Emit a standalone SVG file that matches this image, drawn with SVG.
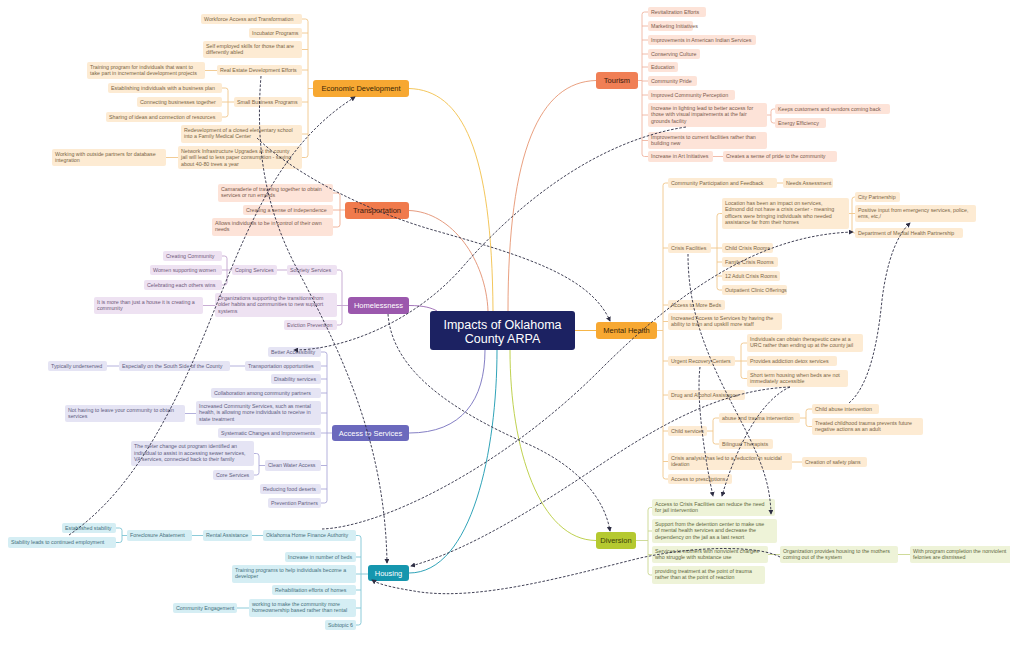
<svg xmlns="http://www.w3.org/2000/svg" width="1010" height="666" viewBox="0 0 1010 666">
<defs>
<marker id="ah" viewBox="0 0 6 6" refX="5" refY="3" markerWidth="5" markerHeight="5" orient="auto" markerUnits="userSpaceOnUse"><path d="M0,0 L6,3 L0,6 z" fill="#2e2e44"/></marker>
<style>
text{font-family:"Liberation Sans",Arial,sans-serif}
.n text{font-size:5.3px}
.n rect{rx:2}
.m text{font-size:7.5px;text-anchor:middle}
.m rect{rx:3}
.ct{font-size:12.5px;fill:#fff;text-anchor:middle}
.ed rect{fill:#fdebd3}.ed text{fill:#7a6545}
.to rect{fill:#fde3d8}.to text{fill:#7a5a4c}
.tr rect{fill:#fde3d8}.tr text{fill:#7a5a4c}
.ho rect{fill:#eee2f2}.ho text{fill:#6e5a7a}
.ac rect{fill:#e5e4f4}.ac text{fill:#5e5c80}
.hs rect{fill:#d5eef4}.hs text{fill:#46707c}
.mh rect{fill:#fdebd3}.mh text{fill:#7a6545}
.dv rect{fill:#eef3d8}.dv text{fill:#62683e}
.br{fill:none;stroke-width:0.9}
.dash{fill:none;stroke:#2e2e44;stroke-width:0.9;stroke-dasharray:2.6 1.6;marker-end:url(#ah)}
</style>
</defs>
<rect width="1010" height="666" fill="#ffffff"/>

<g id="connectors">
<path class="br" stroke="#f2c04a" stroke-width="1.2" d="M409,88.5 C462,90 492,150 493,311"/>
<path class="br" stroke="#e79572" stroke-width="1.2" d="M596,80.5 C540,82 508,150 508,311"/>
<path class="br" stroke="#e29070" stroke-width="1.2" d="M409,210.5 C452,212 486,260 488,311"/>
<path class="br" stroke="#9a66b2" stroke-width="1.2" d="M409,305.5 C424,305.5 432,308 437,311"/>
<path class="br" stroke="#f5ad32" stroke-width="1.2" d="M575,330.5 H596"/>
<path class="br" stroke="#7670bd" stroke-width="1.2" d="M409,433 C462,433 485,400 485,350"/>
<path class="br" stroke="#1898b0" stroke-width="1.2" d="M409,573 C472,573 497,450 497,350"/>
<path class="br" stroke="#b8cc3c" stroke-width="1.2" d="M596,540.5 C540,540 510,450 510,350"/>

<path class="br" stroke="#f0c68a" d="M302,19 H305.5 Q308,19 308,21.5 V155 Q308,157.5 305.5,157.5 H302 M302,33 H308 M302,49.5 H308 M302,70 H308 M302,102 H308 M302,134 H308 M308,88.5 H313 M205,70.5 H217 M222,88 H225.5 Q228,88 228,90.5 V114.5 Q228,117 225.5,117 H222 M222,102 H234 M166,157.5 H178"/>
<path class="br" stroke="#efb4a0" d="M648,12 H644.5 Q642,12 642,14.5 V154 Q642,156.5 644.5,156.5 H648 M648,26 H642 M648,40 H642 M648,54 H642 M648,67 H642 M648,81 H642 M648,95 H642 M648,115 H642 M648,140.5 H642 M638,80.5 H642 M775,109 H773.5 Q771,109 771,111.5 V120.5 Q771,123 773.5,123 H775 M767,115 H771 M713,156.5 H723"/>
<path class="br" stroke="#efab90" d="M333,193 H337.5 Q340,193 340,195.5 V224.5 Q340,227 337.5,227 H333 M333,210 H345"/>
<path class="br" stroke="#c2a4ce" d="M337,270 H339.5 Q342,270 342,272.5 V322.5 Q342,325 339.5,325 H337 M337,305.5 H348 M277,270 H287 M222,256 H224.5 Q227,256 227,258.5 V282.5 Q227,285 224.5,285 H222 M222,270 H232 M203,305.5 H215"/>
<path class="br" stroke="#aca8d8" d="M321,352 H324.5 Q327,352 327,354.5 V500.5 Q327,503 324.5,503 H321 M321,366 H327 M321,379 H327 M321,393 H327 M321,413 H327 M321,433 H332 M321,465.5 H327 M321,489 H327 M230,366 H245 M107,366 H119 M185,413.5 H196 M254,453.5 H256.5 Q259,453.5 259,456 V472.5 Q259,475 256.5,475 H254 M259,465.5 H265"/>
<path class="br" stroke="#7fc5d5" d="M356,535.5 H358.5 Q361,535.5 361,538 V622.5 Q361,625 358.5,625 H356 M356,557 H361 M356,574 H368 M356,590 H361 M356,608 H361 M252,535.5 H263 M192,535.5 H203 M116,528 H119.5 Q122,528 122,530.5 V540 Q122,542.5 119.5,542.5 H116 M122,535.5 H127 M237,608 H249"/>
<path class="br" stroke="#f0c68a" d="M668,183 H665.5 Q663,183 663,185.5 V476.5 Q663,479 665.5,479 H668 M668,248 H663 M668,305 H663 M668,321.5 H663 M668,361 H663 M668,395 H663 M668,431 H663 M668,461.5 H663 M657,330.5 H663 M777,183 H783 M722,213.5 H719.5 Q717,213.5 717,216 V287.5 Q717,290 719.5,290 H722 M722,262 H717 M722,276 H717 M711,248 H722 M855,197 H854.5 Q852,197 852,199.5 V230.5 Q852,233 854.5,233 H855 M849,213.5 H855 M747,343 H743.5 Q741,343 741,345.5 V376 Q741,378.5 743.5,378.5 H747 M735,361 H747 M719,418 H715.5 Q713,418 713,420.5 V441.5 Q713,444 715.5,444 H719 M707,431 H713 M812,409 H808.5 Q806,409 806,411.5 V424 Q806,426.5 808.5,426.5 H812 M800,418 H806 M792,462 H802"/>
<path class="br" stroke="#c9d78e" d="M652,507.5 H650.5 Q648,507.5 648,510 V572.5 Q648,575 650.5,575 H652 M652,531 H648 M652,554.5 H648 M636,540.5 H648 M768,554.5 H780 M898,554.5 H910"/>
</g>

<g id="central"><rect x="430" y="311" width="145" height="39" rx="3" fill="#1c2262"/><text class="ct" x="502.5" y="328.5">Impacts of Oklahoma</text><text class="ct" x="502.5" y="343">County ARPA</text></g>

<g id="economic-development" class="m"><rect x="313" y="80" width="96" height="17" fill="#f7a832"/><text x="361" y="91.2" fill="#3a2606">Economic Development</text></g>
<g id="tourism" class="m"><rect x="596" y="72" width="42" height="17" fill="#f07f55"/><text x="617" y="83.2" fill="#3a1a0e">Tourism</text></g>
<g id="transportation" class="m"><rect x="345" y="202" width="64" height="17" fill="#f07a4c"/><text x="377" y="213.2" fill="#3a1a0e">Transportation</text></g>
<g id="homelessness" class="m"><rect x="348" y="297" width="61" height="17" fill="#9b58ad"/><text x="378.5" y="308.2" fill="#ffffff">Homelessness</text></g>
<g id="mental-health" class="m"><rect x="596" y="322" width="61" height="17" fill="#f7a832"/><text x="626.5" y="333.2" fill="#3a2606">Mental Health</text></g>
<g id="access-to-services" class="m"><rect x="332" y="425" width="77" height="16" fill="#6b69bd"/><text x="370.5" y="435.7" fill="#ffffff">Access to Services</text></g>
<g id="housing" class="m"><rect x="368" y="565" width="41" height="16" fill="#1596ae"/><text x="388.5" y="575.7" fill="#ffffff">Housing</text></g>
<g id="diversion" class="m"><rect x="596" y="532" width="40" height="17" fill="#b5c930"/><text x="616" y="543.2" fill="#3a4008">Diversion</text></g>

<g id="ed-1" class="n ed"><rect x="201" y="14" width="101" height="10"/><text x="204" y="20.9">Workforce Access and Transformation</text></g>
<g id="ed-2" class="n ed"><rect x="249" y="28" width="53" height="10"/><text x="252" y="34.9">Incubator Programs</text></g>
<g id="ed-3" class="n ed"><rect x="203" y="41" width="99" height="17"/><text x="206" y="47.5">Self employed skills for those that are<tspan x="206" dy="6.5">differently abled</tspan></text></g>
<g id="ed-4" class="n ed"><rect x="217" y="65" width="85" height="10"/><text x="220" y="71.9">Real Estate Development Efforts</text></g>
<g id="ed-4a" class="n ed"><rect x="87" y="62" width="118" height="17"/><text x="90" y="68.5">Training program for individuals that want to<tspan x="90" dy="6.5">take part in incremental development projects</tspan></text></g>
<g id="ed-5" class="n ed"><rect x="234" y="97" width="68" height="10"/><text x="237" y="103.9">Small Business Programs</text></g>
<g id="ed-5a" class="n ed"><rect x="108" y="83" width="114" height="10"/><text x="111" y="89.9">Establishing individuals with a business plan</text></g>
<g id="ed-5b" class="n ed"><rect x="137" y="97" width="85" height="10"/><text x="140" y="103.9">Connecting businesses together</text></g>
<g id="ed-5c" class="n ed"><rect x="106" y="112" width="116" height="10"/><text x="109" y="118.9">Sharing of ideas and connection of resources</text></g>
<g id="ed-6" class="n ed"><rect x="181" y="125" width="121" height="18"/><text x="184" y="131.8">Redevelopment of a closed elementary school<tspan x="184" dy="6.5">into a Family Medical Center</tspan></text></g>
<g id="ed-7" class="n ed"><rect x="178" y="146" width="124" height="23"/><text x="181" y="152.5">Network Infrastructure Upgrades at the county<tspan x="181" dy="6.5">jail will lead to less paper consumption - saving</tspan><tspan x="181" dy="6.5">about 40-80 trees a year</tspan></text></g>
<g id="ed-7a" class="n ed"><rect x="52" y="149" width="114" height="17"/><text x="55" y="155.5">Working with outside partners for database<tspan x="55" dy="6.5">integration</tspan></text></g>

<g id="to-1" class="n to"><rect x="648" y="7" width="58" height="10"/><text x="651" y="13.9">Revitalization Efforts</text></g>
<g id="to-2" class="n to"><rect x="648" y="21" width="45" height="10"/><text x="651" y="27.9">Marketing Initiatives</text></g>
<g id="to-3" class="n to"><rect x="648" y="35" width="108" height="10"/><text x="651" y="41.9">Improvements in American Indian Services</text></g>
<g id="to-4" class="n to"><rect x="648" y="49" width="52" height="10"/><text x="651" y="55.9">Conserving Culture</text></g>
<g id="to-5" class="n to"><rect x="648" y="62" width="30" height="10"/><text x="651" y="68.9">Education</text></g>
<g id="to-6" class="n to"><rect x="648" y="76" width="49" height="10"/><text x="651" y="82.9">Community Pride</text></g>
<g id="to-7" class="n to"><rect x="648" y="90" width="87" height="10"/><text x="651" y="96.9">Improved Community Perception</text></g>
<g id="to-8" class="n to"><rect x="648" y="103" width="119" height="24"/><text x="651" y="109.6">Increase in lighting lead to better access for<tspan x="651" dy="6.5">those with visual impairements at the fair</tspan><tspan x="651" dy="6.5">grounds facility</tspan></text></g>
<g id="to-8a" class="n to"><rect x="775" y="104" width="115" height="10"/><text x="778" y="110.9">Keeps customers and vendors coming back</text></g>
<g id="to-8b" class="n to"><rect x="775" y="118" width="51" height="10"/><text x="778" y="124.9">Energy Efficiency</text></g>
<g id="to-9" class="n to"><rect x="648" y="132" width="119" height="17"/><text x="651" y="138.5">Improvements to current facilities rather than<tspan x="651" dy="6.5">building new</tspan></text></g>
<g id="to-10" class="n to"><rect x="648" y="151" width="65" height="11"/><text x="651" y="158.4">Increase in Art Initiatives</text></g>
<g id="to-10a" class="n to"><rect x="723" y="151" width="114" height="11"/><text x="726" y="158.4">Creates a sense of pride to the community</text></g>

<g id="tr-1" class="n tr"><rect x="218" y="184" width="115" height="18"/><text x="221" y="190.8">Camaraderie of traveling together to obtain<tspan x="221" dy="6.5">services or run errands</tspan></text></g>
<g id="tr-2" class="n tr"><rect x="243" y="205" width="90" height="10"/><text x="246" y="211.9">Creating a sense of independence</text></g>
<g id="tr-3" class="n tr"><rect x="212" y="218" width="121" height="18"/><text x="215" y="224.8">Allows individuals to be in control of their own<tspan x="215" dy="6.5">needs</tspan></text></g>

<g id="ho-1" class="n ho"><rect x="287" y="265" width="50" height="10"/><text x="290" y="271.9">Sobriety Services</text></g>
<g id="ho-1a" class="n ho"><rect x="232" y="265" width="45" height="10"/><text x="235" y="271.9">Coping Services</text></g>
<g id="ho-1a1" class="n ho"><rect x="163" y="251" width="59" height="10"/><text x="166" y="257.9">Creating Community</text></g>
<g id="ho-1a2" class="n ho"><rect x="150" y="265" width="72" height="10"/><text x="153" y="271.9">Women supporting women</text></g>
<g id="ho-1a3" class="n ho"><rect x="144" y="280" width="78" height="10"/><text x="147" y="286.9">Celebrating each others wins</text></g>
<g id="ho-2" class="n ho"><rect x="215" y="293" width="122" height="24"/><text x="218" y="299.6">Organizations supporting the transitions from<tspan x="218" dy="6.5">older habits and communities to new support</tspan><tspan x="218" dy="6.5">systems</tspan></text></g>
<g id="ho-2a" class="n ho"><rect x="94" y="297" width="109" height="17"/><text x="97" y="303.5">It is more than just a house it is creating a<tspan x="97" dy="6.5">community</tspan></text></g>
<g id="ho-3" class="n ho"><rect x="284" y="320" width="53" height="10"/><text x="287" y="326.9">Eviction Prevention</text></g>

<g id="ac-1" class="n ac"><rect x="268" y="347" width="53" height="10"/><text x="271" y="353.9">Better Accessibility</text></g>
<g id="ac-2" class="n ac"><rect x="245" y="361" width="76" height="10"/><text x="248" y="367.9">Transportation opportunities</text></g>
<g id="ac-2a" class="n ac"><rect x="119" y="361" width="111" height="10"/><text x="122" y="367.9">Especially on the South Side of the County</text></g>
<g id="ac-2b" class="n ac"><rect x="48" y="361" width="59" height="10"/><text x="51" y="367.9">Typically underserved</text></g>
<g id="ac-3" class="n ac"><rect x="271" y="374" width="50" height="10"/><text x="274" y="380.9">Disability services</text></g>
<g id="ac-4" class="n ac"><rect x="211" y="388" width="110" height="10"/><text x="214" y="394.9">Collaboration among community partners</text></g>
<g id="ac-5" class="n ac"><rect x="196" y="401" width="125" height="24"/><text x="199" y="407.6">Increased Community Services, such as mental<tspan x="199" dy="6.5">health, is allowing more individuals to receive in</tspan><tspan x="199" dy="6.5">state treatment</tspan></text></g>
<g id="ac-5a" class="n ac"><rect x="65" y="405" width="120" height="17"/><text x="68" y="411.5">Not having to leave your community to obtain<tspan x="68" dy="6.5">services</tspan></text></g>
<g id="ac-6" class="n ac"><rect x="218" y="428" width="103" height="10"/><text x="221" y="434.9">Systematic Changes and Improvements</text></g>
<g id="ac-7" class="n ac"><rect x="265" y="460" width="56" height="11"/><text x="268" y="467.4">Clean Water Access</text></g>
<g id="ac-7a" class="n ac"><rect x="131" y="441" width="123" height="25"/><text x="134" y="448">The meter change out program identified an<tspan x="134" dy="6.5">individual to assist in accessing sewer services,</tspan><tspan x="134" dy="6.5">VA services, connected back to their family</tspan></text></g>
<g id="ac-7b" class="n ac"><rect x="213" y="470" width="41" height="10"/><text x="216" y="476.9">Core Services</text></g>
<g id="ac-8" class="n ac"><rect x="260" y="484" width="61" height="10"/><text x="263" y="490.9">Reducing food deserts</text></g>
<g id="ac-9" class="n ac"><rect x="268" y="498" width="53" height="10"/><text x="271" y="504.9">Prevention Partners</text></g>

<g id="hs-1" class="n hs"><rect x="263" y="530" width="93" height="11"/><text x="266" y="537.4">Oklahoma Home Finance Authority</text></g>
<g id="hs-1a" class="n hs"><rect x="203" y="530" width="49" height="11"/><text x="206" y="537.4">Rental Assistance</text></g>
<g id="hs-1b" class="n hs"><rect x="127" y="530" width="65" height="11"/><text x="130" y="537.4">Foreclosure Abatement</text></g>
<g id="hs-1c" class="n hs"><rect x="62" y="523" width="54" height="10"/><text x="65" y="529.9">Established stability</text></g>
<g id="hs-1d" class="n hs"><rect x="8" y="537" width="108" height="11"/><text x="11" y="544.4">Stability leads to continued employment</text></g>
<g id="hs-2" class="n hs"><rect x="285" y="552" width="71" height="10"/><text x="288" y="558.9">Increase in number of beds</text></g>
<g id="hs-3" class="n hs"><rect x="232" y="565" width="124" height="18"/><text x="235" y="571.8">Training programs to help individuals become a<tspan x="235" dy="6.5">developer</tspan></text></g>
<g id="hs-4" class="n hs"><rect x="272" y="585" width="84" height="10"/><text x="275" y="591.9">Rehabilitation efforts of homes</text></g>
<g id="hs-5" class="n hs"><rect x="249" y="599" width="107" height="18"/><text x="252" y="605.8">working to make the community more<tspan x="252" dy="6.5">homeownership based rather than rental</tspan></text></g>
<g id="hs-5a" class="n hs"><rect x="173" y="603" width="64" height="10"/><text x="176" y="609.9">Community Engagement</text></g>
<g id="hs-6" class="n hs"><rect x="325" y="620" width="31" height="10"/><text x="328" y="626.9">Subtopic 6</text></g>

<g id="mh-1" class="n mh"><rect x="668" y="178" width="109" height="10"/><text x="671" y="184.9">Community Participation and Feedback</text></g>
<g id="mh-1a" class="n mh"><rect x="783" y="178" width="50" height="10"/><text x="786" y="184.9">Needs Assessment</text></g>
<g id="mh-2" class="n mh"><rect x="668" y="243" width="43" height="10"/><text x="671" y="249.9">Crisis Facilities</text></g>
<g id="mh-2a" class="n mh"><rect x="722" y="198" width="127" height="31"/><text x="725" y="204.6">Location has been an impact on services,<tspan x="725" dy="6.5">Edmond did not have a crisis center - meaning</tspan><tspan x="725" dy="6.5">officers were bringing individuals who needed</tspan><tspan x="725" dy="6.5">assistance far from their homes</tspan></text></g>
<g id="mh-2a1" class="n mh"><rect x="855" y="192" width="45" height="10"/><text x="858" y="198.9">City Partnership</text></g>
<g id="mh-2a2" class="n mh"><rect x="855" y="205" width="121" height="17"/><text x="858" y="211.5">Positive input from emergency services, police,<tspan x="858" dy="6.5">ems, etc,/</tspan></text></g>
<g id="mh-2a3" class="n mh"><rect x="855" y="228" width="108" height="10"/><text x="858" y="234.9">Department of Mental Health Partnership</text></g>
<g id="mh-2b" class="n mh"><rect x="722" y="243" width="51" height="10"/><text x="725" y="249.9">Child Crisis Rooms</text></g>
<g id="mh-2c" class="n mh"><rect x="722" y="257" width="56" height="10"/><text x="725" y="263.9">Family Crisis Rooms</text></g>
<g id="mh-2d" class="n mh"><rect x="722" y="271" width="58" height="10"/><text x="725" y="277.9">12 Adult Crisis Rooms</text></g>
<g id="mh-2e" class="n mh"><rect x="722" y="285" width="65" height="10"/><text x="725" y="291.9">Outpatient Clinic Offerings</text></g>
<g id="mh-3" class="n mh"><rect x="668" y="300" width="57" height="10"/><text x="671" y="306.9">Access to More Beds</text></g>
<g id="mh-4" class="n mh"><rect x="668" y="313" width="114" height="17"/><text x="671" y="319.5">Increased Access to Services by having the<tspan x="671" dy="6.5">ability to train and upskill more staff</tspan></text></g>
<g id="mh-5" class="n mh"><rect x="668" y="356" width="67" height="10"/><text x="671" y="362.9">Urgent Recovery Centers</text></g>
<g id="mh-5a" class="n mh"><rect x="747" y="334" width="116" height="18"/><text x="750" y="340.8">Individuals can obtain therapeutic care at a<tspan x="750" dy="6.5">URC rather than ending up at the county jail</tspan></text></g>
<g id="mh-5b" class="n mh"><rect x="747" y="356" width="90" height="10"/><text x="750" y="362.9">Provides addiction detox services</text></g>
<g id="mh-5c" class="n mh"><rect x="747" y="370" width="101" height="17"/><text x="750" y="376.5">Short term housing when beds are not<tspan x="750" dy="6.5">immediately accessible</tspan></text></g>
<g id="mh-6" class="n mh"><rect x="668" y="390" width="77" height="10"/><text x="671" y="396.9">Drug and Alcohol Assistance</text></g>
<g id="mh-7" class="n mh"><rect x="668" y="426" width="39" height="10"/><text x="671" y="432.9">Child services</text></g>
<g id="mh-7a" class="n mh"><rect x="719" y="413" width="81" height="10"/><text x="722" y="419.9">abuse and trauma intervention</text></g>
<g id="mh-7a1" class="n mh"><rect x="812" y="404" width="67" height="10"/><text x="815" y="410.9">Child abuse intervention</text></g>
<g id="mh-7a2" class="n mh"><rect x="812" y="418" width="111" height="17"/><text x="815" y="424.5">Treated childhood trauma prevents future<tspan x="815" dy="6.5">negative actions as an adult</tspan></text></g>
<g id="mh-7b" class="n mh"><rect x="719" y="439" width="54" height="10"/><text x="722" y="445.9">Bilingual Therapists</text></g>
<g id="mh-8" class="n mh"><rect x="668" y="453" width="124" height="17"/><text x="671" y="459.5">Crisis analysis has led to a reduction in suicidal<tspan x="671" dy="6.5">ideation</tspan></text></g>
<g id="mh-8a" class="n mh"><rect x="802" y="457" width="65" height="10"/><text x="805" y="463.9">Creation of safety plans</text></g>
<g id="mh-9" class="n mh"><rect x="668" y="474" width="64" height="10"/><text x="671" y="480.9">Access to prescriptions</text></g>

<g id="dv-1" class="n dv"><rect x="652" y="499" width="123" height="17"/><text x="655" y="505.5">Access to Crisis Facilities can reduce the need<tspan x="655" dy="6.5">for jail intervention</tspan></text></g>
<g id="dv-2" class="n dv"><rect x="652" y="519" width="125" height="24"/><text x="655" y="525.6">Support from the detention center to make use<tspan x="655" dy="6.5">of mental health services and decrease the</tspan><tspan x="655" dy="6.5">dependency on the jail as a last resort</tspan></text></g>
<g id="dv-3" class="n dv"><rect x="652" y="546" width="116" height="17"/><text x="655" y="552.5">Services to mothers with nonviolent charges<tspan x="655" dy="6.5">who struggle with substance use</tspan></text></g>
<g id="dv-3a" class="n dv"><rect x="780" y="546" width="118" height="17"/><text x="783" y="552.5">Organization provides housing to the mothers<tspan x="783" dy="6.5">coming out of the system</tspan></text></g>
<g id="dv-3b" class="n dv"><rect x="910" y="546" width="110" height="17"/><text x="913" y="552.5">With program completion the nonviolent<tspan x="913" dy="6.5">felonies are dismissed</tspan></text></g>
<g id="dv-4" class="n dv"><rect x="652" y="566" width="113" height="18"/><text x="655" y="572.8">providing treatment at the point of trauma<tspan x="655" dy="6.5">rather than at the  point of reaction</tspan></text></g>

<g id="relations">
<path class="dash" d="M261,76 C256,140 262,200 295,265 C340,350 385,440 387,563"/>
<path class="dash" d="M69,535 C120,500 160,440 200,345 C240,250 270,150 355,97"/>
<path class="dash" d="M257,138 C290,170 360,210 440,232 C520,255 590,275 610,321"/>
<path class="dash" d="M686,127 C600,140 520,200 460,270 C410,325 340,350 294,350"/>
<path class="dash" d="M388,314 C392,370 450,410 530,445 C580,468 605,500 610,531"/>
<path class="dash" d="M322,529 C380,527 500,470 600,370 C680,290 760,235 853,232"/>
<path class="dash" d="M780,557 C760,546 700,545 640,558 C560,578 480,600 420,592 C395,588 380,585 372,580"/>
<path class="dash" d="M790,387 C720,390 660,425 600,465 C540,505 470,550 411,566"/>
<path class="dash" d="M700,367 C696,400 705,460 713,496"/>
<path class="dash" d="M790,387 C760,400 735,450 722,496"/>
<path class="dash" d="M688,254 C688,300 700,340 725,390 C750,440 770,470 771,514"/>
<path class="dash" d="M849,403 C870,385 878,340 882,300 C887,260 897,235 910,223"/>
</g>
</svg>
